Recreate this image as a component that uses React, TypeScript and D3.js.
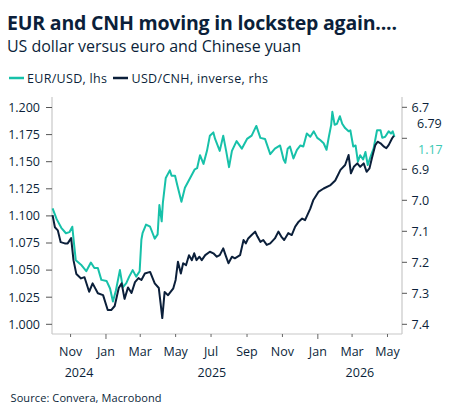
import React from "react";
import * as d3 from "d3";

// EUR/USD (left axis)
const eurDates = [
  "2024-10-01", "2024-10-08", "2024-10-16", "2024-10-24", "2024-10-30", "2024-11-04", "2024-11-07", "2024-11-10",
  "2024-11-19", "2024-11-28", "2024-12-06", "2024-12-12", "2024-12-18", "2024-12-24", "2025-01-02", "2025-01-08",
  "2025-01-13", "2025-01-18", "2025-01-25", "2025-01-30", "2025-02-05", "2025-02-10", "2025-02-16", "2025-02-22",
  "2025-02-28", "2025-03-03", "2025-03-05", "2025-03-11", "2025-03-18", "2025-03-26", "2025-03-31", "2025-04-03",
  "2025-04-07", "2025-04-09", "2025-04-14", "2025-04-21", "2025-04-24", "2025-04-30", "2025-05-04", "2025-05-11",
  "2025-05-17", "2025-05-26", "2025-06-03", "2025-06-07", "2025-06-12", "2025-06-18", "2025-06-24", "2025-06-29",
  "2025-07-05", "2025-07-08", "2025-07-16", "2025-07-22", "2025-07-27", "2025-08-01", "2025-08-06", "2025-08-14",
  "2025-08-23", "2025-09-01", "2025-09-09", "2025-09-17", "2025-09-24", "2025-10-02", "2025-10-11", "2025-10-19",
  "2025-10-28", "2025-11-03", "2025-11-06", "2025-11-10", "2025-11-14", "2025-11-20", "2025-11-26", "2025-12-02",
  "2025-12-07", "2025-12-13", "2025-12-19", "2025-12-25", "2025-12-31", "2026-01-05", "2026-01-11", "2026-01-16",
  "2026-01-20", "2026-01-24", "2026-01-26", "2026-01-30", "2026-02-03", "2026-02-08", "2026-02-12", "2026-02-17",
  "2026-02-23", "2026-02-26", "2026-03-03", "2026-03-07", "2026-03-11", "2026-03-15", "2026-03-20", "2026-03-24",
  "2026-03-28", "2026-04-02", "2026-04-07", "2026-04-13", "2026-04-19", "2026-04-22", "2026-04-27", "2026-05-03",
  "2026-05-07", "2026-05-10", "2026-05-13",
];
const eurValues = [
  1.107, 1.097, 1.089, 1.084, 1.085, 1.090, 1.074, 1.059,
  1.055, 1.049, 1.057, 1.052, 1.052, 1.041, 1.040, 1.033,
  1.021, 1.031, 1.050, 1.034, 1.038, 1.044, 1.050, 1.044,
  1.049, 1.078, 1.084, 1.092, 1.090, 1.079, 1.083, 1.110,
  1.095, 1.112, 1.135, 1.142, 1.137, 1.137, 1.128, 1.113,
  1.126, 1.135, 1.143, 1.144, 1.156, 1.148, 1.160, 1.174,
  1.177, 1.171, 1.160, 1.174, 1.160, 1.145, 1.160, 1.169,
  1.162, 1.171, 1.174, 1.183, 1.172, 1.171, 1.157, 1.162,
  1.165, 1.152, 1.149, 1.162, 1.164, 1.153, 1.161, 1.165,
  1.164, 1.176, 1.173, 1.178, 1.172, 1.170, 1.167, 1.161,
  1.173, 1.184, 1.196, 1.184, 1.185, 1.192, 1.185, 1.181,
  1.178, 1.179, 1.164, 1.165, 1.150, 1.156, 1.152, 1.159,
  1.147, 1.155, 1.162, 1.179, 1.179, 1.172, 1.173, 1.178,
  1.176, 1.178, 1.173,
];

// USD/CNH (right axis, inverted)
const cnhDates = [
  "2024-10-01", "2024-10-05", "2024-10-10", "2024-10-15", "2024-10-22", "2024-10-27", "2024-11-02", "2024-11-06",
  "2024-11-11", "2024-11-19", "2024-11-25", "2024-12-03", "2024-12-09", "2024-12-18", "2024-12-27", "2025-01-04",
  "2025-01-10", "2025-01-16", "2025-01-23", "2025-01-28", "2025-02-02", "2025-02-08", "2025-02-14", "2025-02-20",
  "2025-02-26", "2025-03-03", "2025-03-09", "2025-03-18", "2025-03-26", "2025-04-02", "2025-04-05", "2025-04-08",
  "2025-04-12", "2025-04-18", "2025-04-27", "2025-05-01", "2025-05-05", "2025-05-10", "2025-05-14", "2025-05-19",
  "2025-05-24", "2025-05-29", "2025-06-02", "2025-06-06", "2025-06-11", "2025-06-15", "2025-06-21", "2025-06-29",
  "2025-07-05", "2025-07-11", "2025-07-16", "2025-07-22", "2025-07-26", "2025-07-31", "2025-08-06", "2025-08-11",
  "2025-08-20", "2025-08-26", "2025-08-30", "2025-09-03", "2025-09-09", "2025-09-15", "2025-09-19", "2025-09-24",
  "2025-09-29", "2025-10-05", "2025-10-11", "2025-10-19", "2025-10-25", "2025-10-30", "2025-11-04", "2025-11-11",
  "2025-11-17", "2025-11-23", "2025-11-29", "2025-12-05", "2025-12-10", "2025-12-19", "2025-12-24", "2026-01-02",
  "2026-01-11", "2026-01-22", "2026-01-31", "2026-02-09", "2026-02-17", "2026-02-23", "2026-02-27", "2026-03-04",
  "2026-03-10", "2026-03-15", "2026-03-21", "2026-03-26", "2026-03-31", "2026-04-04", "2026-04-10", "2026-04-14",
  "2026-04-19", "2026-04-25", "2026-04-29", "2026-05-03", "2026-05-09", "2026-05-12",
];
const cnhValues = [
  7.048, 7.087, 7.097, 7.135, 7.139, 7.139, 7.122, 7.193,
  7.238, 7.252, 7.248, 7.295, 7.268, 7.300, 7.306, 7.354,
  7.354, 7.341, 7.283, 7.268, 7.318, 7.281, 7.299, 7.264,
  7.251, 7.257, 7.236, 7.231, 7.268, 7.283, 7.331, 7.380,
  7.296, 7.306, 7.284, 7.257, 7.198, 7.236, 7.203, 7.209,
  7.177, 7.193, 7.171, 7.193, 7.182, 7.193, 7.177, 7.166,
  7.171, 7.182, 7.177, 7.155, 7.177, 7.203, 7.182, 7.187,
  7.177, 7.128, 7.139, 7.123, 7.112, 7.101, 7.117, 7.134,
  7.128, 7.144, 7.139, 7.123, 7.101, 7.117, 7.128, 7.106,
  7.112, 7.085, 7.069, 7.059, 7.064, 7.027, 7.000, 6.973,
  6.962, 6.952, 6.936, 6.902, 6.886, 6.854, 6.913, 6.892,
  6.881, 6.892, 6.881, 6.908, 6.897, 6.865, 6.822, 6.811,
  6.816, 6.827, 6.832, 6.822, 6.800, 6.792,
];

const leftTicks = [1.0, 1.025, 1.05, 1.075, 1.1, 1.125, 1.15, 1.175, 1.2];
const rightTicks = [6.7, 6.8, 6.9, 7.0, 7.1, 7.2, 7.3, 7.4];
const rightTickLabels = ["6.7", "", "6.9", "7.0", "7.1", "7.2", "7.3", "7.4"];
const legendLabels = ["EUR/USD, lhs", "USD/CNH, inverse, rhs"];
const lastLabels = ["6.79", "1.17"];

const TEAL = "#17c1a9";
const NAVY = "#0b1f3a";
const AXIS = "#c8c8c8";
const FONT = "'Open Sans', 'Noto Sans', sans-serif";

const parse = d3.timeParse("%Y-%m-%d");

export default function App() {
  const width = 453;
  const height = 417;
  const left = 52;
  const right = 402;
  const bottom = 334;

  const start = new Date(2024, 8, 30);
  const end = new Date(2026, 4, 26);
  const x = d3.scaleTime().domain([start, end]).range([left, right]);
  const yL = d3.scaleLinear().domain([1.0, 1.2]).range([324.3, 107.5]);
  const yR = d3.scaleLinear().domain([6.7, 7.4]).range([107.3, 324.3]);

  const eur = eurDates.map((d, i) => ({ date: parse(d) as Date, v: eurValues[i] }));
  const cnh = cnhDates.map((d, i) => ({ date: parse(d) as Date, v: cnhValues[i] }));

  const eurLine = d3.line<{ date: Date; v: number }>().x((d) => x(d.date)).y((d) => yL(d.v));
  const cnhLine = d3.line<{ date: Date; v: number }>().x((d) => x(d.date)).y((d) => yR(d.v));

  const monthTicks = x.ticks(d3.timeMonth.every(2) as d3.TimeInterval);
  const fmtMonth = d3.timeFormat("%b");
  const years = [2024, 2025, 2026].map((yr) => {
    const a = Math.max(x(new Date(yr, 0, 1)), left);
    const b = Math.min(x(new Date(yr + 1, 0, 1)), right);
    return { yr, cx: (a + b) / 2 };
  });

  return (
    <svg
      width={width}
      height={height}
      style={{ position: "absolute", left: 0, top: 0, background: "#fff" }}
      fontFamily={FONT}
    >
      <text x={7} y={30} fontSize={19.5} fontWeight="bold" fill={NAVY} textLength={390}>
        EUR and CNH moving in lockstep again....
      </text>
      <text x={7} y={52} fontSize={16} fill={NAVY} textLength={294}>
        US dollar versus euro and Chinese yuan
      </text>

      {/* legend */}
      <line x1={9} x2={24} y1={78} y2={78} stroke={TEAL} strokeWidth={2.5} />
      <text x={27} y={82.5} fontSize={12.5} fill={NAVY} textLength={80}>
        {legendLabels[0]}
      </text>
      <line x1={113} x2={128} y1={78} y2={78} stroke={NAVY} strokeWidth={2.5} />
      <text x={131.5} y={82.5} fontSize={12.5} fill={NAVY} textLength={136.5}>
        {legendLabels[1]}
      </text>

      {/* axes frame */}
      <line x1={left} x2={left} y1={97} y2={bottom} stroke={AXIS} strokeWidth={1.2} />
      <line x1={right} x2={right} y1={97} y2={bottom} stroke={AXIS} strokeWidth={1.2} />
      <line x1={left} x2={right} y1={bottom} y2={bottom} stroke={AXIS} strokeWidth={1.2} />

      {leftTicks.map((t) => (
        <g key={"l" + t}>
          <line x1={left - 6} x2={left} y1={yL(t)} y2={yL(t)} stroke="#555" />
          <text x={40} y={yL(t)} dy="0.35em" textAnchor="end" fontSize={12.5} fill={NAVY}>
            {d3.format(".3f")(t)}
          </text>
        </g>
      ))}
      {rightTicks.map((t, i) => (
        <g key={"r" + t}>
          <line x1={right} x2={right + 5} y1={yR(t)} y2={yR(t)} stroke="#555" />
          <text x={411.5} y={yR(t)} dy="0.35em" fontSize={12.5} fill={NAVY}>
            {rightTickLabels[i]}
          </text>
        </g>
      ))}

      {monthTicks.map((t) => {
        const major = t.getMonth() === 0;
        return (
          <g key={t.toISOString()}>
            <line x1={x(t)} x2={x(t)} y1={bottom} y2={bottom + (major ? 5 : 3)} stroke="#666" />
            <text x={x(t)} y={356} textAnchor="middle" fontSize={12.5} fill={NAVY}>
              {fmtMonth(t)}
            </text>
          </g>
        );
      })}
      {years.map((d) => (
        <text key={d.yr} x={d.cx} y={377} textAnchor="middle" fontSize={12.5} fill={NAVY}>
          {d.yr}
        </text>
      ))}

      {/* series */}
      <path d={eurLine(eur) ?? ""} fill="none" stroke={TEAL} strokeWidth={2} strokeLinejoin="round" />
      <path d={cnhLine(cnh) ?? ""} fill="none" stroke={NAVY} strokeWidth={2} strokeLinejoin="round" />

      {/* last values */}
      <text x={417} y={127.5} fontSize={12.5} fill={NAVY}>
        {lastLabels[0]}
      </text>
      <text x={418} y={153.5} fontSize={12.5} fill="#3cc9b3">
        {lastLabels[1]}
      </text>

      <text x={10.5} y={402} fontSize={11} fill={NAVY} textLength={151}>
        Source: Convera, Macrobond
      </text>
    </svg>
  );
}
